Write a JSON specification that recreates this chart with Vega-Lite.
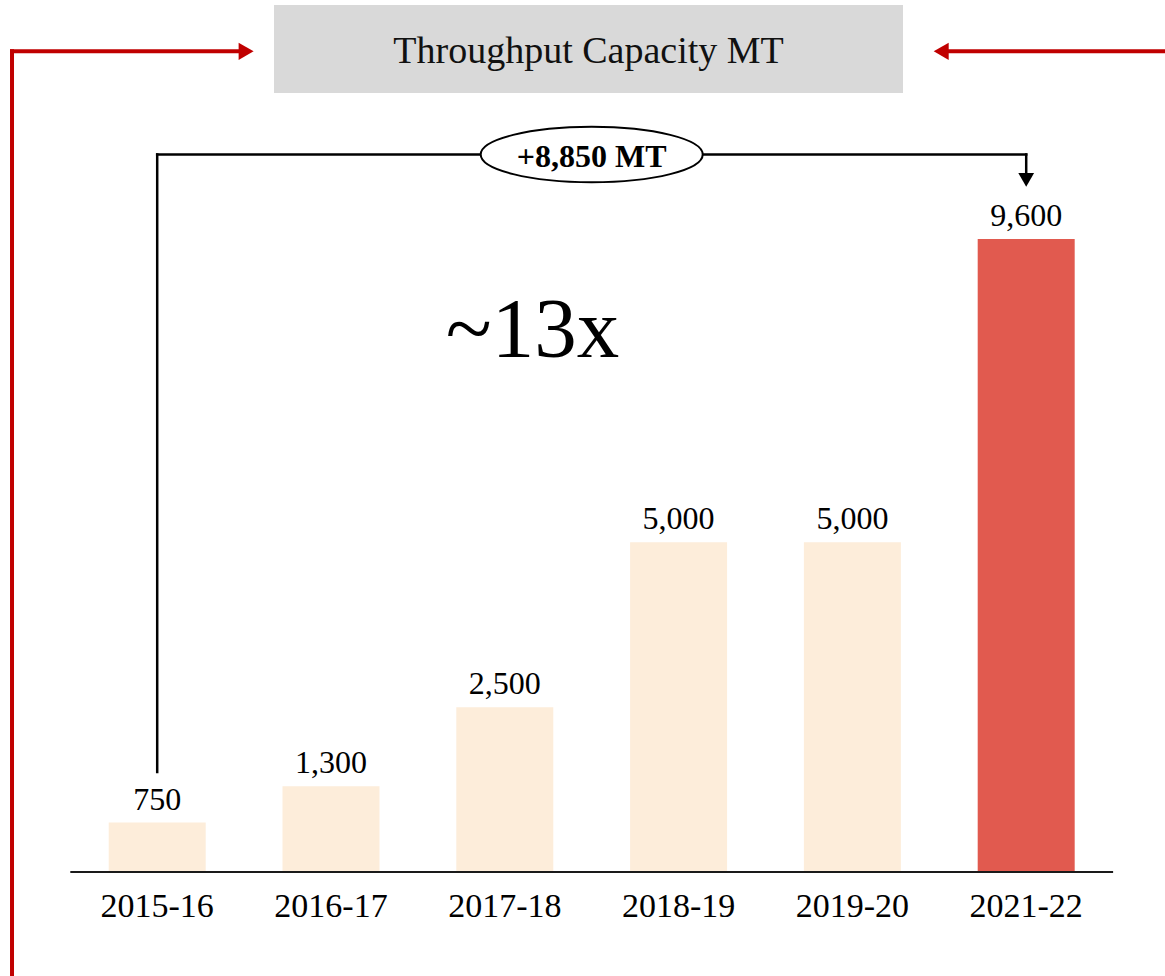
{
  "$schema": "https://vega.github.io/schema/vega-lite/v6.json",
  "width": 1165,
  "height": 872,
  "autosize": {"type": "none"},
  "padding": {"left": 0, "top": 0, "right": 0, "bottom": 104},
  "background": "white",
  "config": {"view": {"stroke": null}, "font": "Liberation Serif"},
  "resolve": {"scale": {"x": "independent"}},
  "layer": [
    {
      "data": {"values": [
        {"period": "2015-16", "value": 750},
        {"period": "2016-17", "value": 1300},
        {"period": "2017-18", "value": 2500},
        {"period": "2018-19", "value": 5000},
        {"period": "2019-20", "value": 5000},
        {"period": "2021-22", "value": 9600}
      ]},
      "encoding": {
        "x": {"field": "period", "type": "nominal", "sort": null,
          "scale": {"type": "band", "paddingInner": 0.4419, "paddingOuter": 0.5725, "align": 0.5462},
          "axis": {"title": null, "domain": false, "ticks": false, "tickSize": 0, "labelPadding": 44, "labelBaseline": "alphabetic", "labelFont": "Liberation Serif", "labelFontSize": 34, "labelColor": "#000", "labelAngle": 0, "grid": false}},
        "y": {"field": "value", "type": "quantitative", "scale": {"domain": [0, 13224], "nice": false, "zero": true}, "axis": null}
      },
      "layer": [
        {"mark": {"type": "bar"},
         "encoding": {"color": {"condition": {"test": "datum.period === '2021-22'", "value": "#E15A4F"}, "value": "#FDEDDA"}}},
        {"mark": {"type": "text", "baseline": "alphabetic", "dy": -13, "fontSize": 32, "font": "Liberation Serif", "color": "#000"},
         "encoding": {"text": {"field": "value", "type": "quantitative", "format": ","}}}
      ]
    },
    {
      "layer": [
        {
          "data": {"values": [{"x": 0.672, "x2": 4.2912, "y": 13148, "y2": 11814}]},
          "mark": {"type": "rect", "fill": "#D9D9D9"},
          "encoding": {
            "x": {"field": "x", "type": "quantitative", "scale": {"domain": [-0.9045, 5.7986], "nice": false, "zero": false}, "axis": null},
            "x2": {"field": "x2"},
            "y": {"field": "y", "type": "quantitative", "scale": {"domain": [0, 13224], "nice": false}, "axis": null},
            "y2": {"field": "y2"}
          }
        },
        {
          "data": {"values": [{"x": 2.4816, "y": 12264, "label": "Throughput Capacity MT"}]},
          "mark": {"type": "text", "baseline": "alphabetic", "align": "center", "fontSize": 38, "font": "Liberation Serif", "color": "#111"},
          "encoding": {
            "x": {"field": "x", "type": "quantitative", "scale": {"domain": [-0.9045, 5.7986], "nice": false, "zero": false}, "axis": null},
            "y": {"field": "y", "type": "quantitative", "scale": {"domain": [0, 13224], "nice": false}, "axis": null},
            "text": {"field": "label"}
          }
        },
        {
          "data": {"values": [
            {"x": -0.8354, "x2": -0.8354, "y": 12446, "y2": -1700},
            {"x": -0.8354, "x2": 0.47, "y": 12446, "y2": 12446},
            {"x": 4.55, "x2": 5.83, "y": 12446, "y2": 12446}
          ]},
          "mark": {"type": "rule", "color": "#C00000", "strokeWidth": 4, "strokeCap": "square"},
          "encoding": {
            "x": {"field": "x", "type": "quantitative", "scale": {"domain": [-0.9045, 5.7986], "nice": false, "zero": false}, "axis": null},
            "x2": {"field": "x2"},
            "y": {"field": "y", "type": "quantitative", "scale": {"domain": [0, 13224], "nice": false}, "axis": null},
            "y2": {"field": "y2"}
          }
        },
        {
          "data": {"values": [
            {"x": 0.5115, "y": 12446, "dir": "right"},
            {"x": 4.5109, "y": 12446, "dir": "left"}
          ]},
          "mark": {"type": "point", "filled": true, "color": "#C00000", "size": 300, "opacity": 1, "strokeWidth": 0},
          "encoding": {
            "x": {"field": "x", "type": "quantitative", "scale": {"domain": [-0.9045, 5.7986], "nice": false, "zero": false}, "axis": null},
            "y": {"field": "y", "type": "quantitative", "scale": {"domain": [0, 13224], "nice": false}, "axis": null},
            "shape": {"field": "dir", "type": "nominal", "scale": {"domain": ["right", "left"], "range": ["triangle-right", "triangle-left"]}, "legend": null}
          }
        },
        {
          "data": {"values": [{"x": -0.5, "x2": 5.5, "y": 0, "y2": 0}]},
          "mark": {"type": "rule", "color": "#1a1a1a", "strokeWidth": 2},
          "encoding": {
            "x": {"field": "x", "type": "quantitative", "scale": {"domain": [-0.9045, 5.7986], "nice": false, "zero": false}, "axis": null},
            "x2": {"field": "x2"},
            "y": {"field": "y", "type": "quantitative", "scale": {"domain": [0, 13224], "nice": false}, "axis": null},
            "y2": {"field": "y2"}
          }
        },
        {
          "data": {"values": [
            {"x": 0, "x2": 0, "y": 1517, "y2": 10881},
            {"x": 0, "x2": 5, "y": 10881, "y2": 10881},
            {"x": 5, "x2": 5, "y": 10881, "y2": 10616}
          ]},
          "mark": {"type": "rule", "color": "#000", "strokeWidth": 2.5, "strokeCap": "square"},
          "encoding": {
            "x": {"field": "x", "type": "quantitative", "scale": {"domain": [-0.9045, 5.7986], "nice": false, "zero": false}, "axis": null},
            "x2": {"field": "x2"},
            "y": {"field": "y", "type": "quantitative", "scale": {"domain": [0, 13224], "nice": false}, "axis": null},
            "y2": {"field": "y2"}
          }
        },
        {
          "data": {"values": [{"x": 5, "y": 10496}]},
          "mark": {"type": "point", "shape": "triangle-down", "filled": true, "color": "#000", "size": 250, "opacity": 1, "strokeWidth": 0},
          "encoding": {
            "x": {"field": "x", "type": "quantitative", "scale": {"domain": [-0.9045, 5.7986], "nice": false, "zero": false}, "axis": null},
            "y": {"field": "y", "type": "quantitative", "scale": {"domain": [0, 13224], "nice": false}, "axis": null}
          }
        },
        {
          "data": {"values": [{"x": 2.5, "y": 10881}]},
          "mark": {"type": "point", "shape": "M-1,0C-1,-0.138,-0.5523,-0.25,0,-0.25C0.5523,-0.25,1,-0.138,1,0C1,0.138,0.5523,0.25,0,0.25C-0.5523,0.25,-1,0.138,-1,0Z", "filled": true, "fill": "#fff", "stroke": "#000", "strokeWidth": 2, "size": 49284, "opacity": 1, "fillOpacity": 1, "strokeOpacity": 1},
          "encoding": {
            "x": {"field": "x", "type": "quantitative", "scale": {"domain": [-0.9045, 5.7986], "nice": false, "zero": false}, "axis": null},
            "y": {"field": "y", "type": "quantitative", "scale": {"domain": [0, 13224], "nice": false}, "axis": null}
          }
        },
        {
          "data": {"values": [{"x": 2.5, "y": 10696, "label": "+8,850 MT"}]},
          "mark": {"type": "text", "baseline": "alphabetic", "align": "center", "fontSize": 32, "fontWeight": "bold", "font": "Liberation Serif", "color": "#000"},
          "encoding": {
            "x": {"field": "x", "type": "quantitative", "scale": {"domain": [-0.9045, 5.7986], "nice": false, "zero": false}, "axis": null},
            "y": {"field": "y", "type": "quantitative", "scale": {"domain": [0, 13224], "nice": false}, "axis": null},
            "text": {"field": "label"}
          }
        },
        {
          "data": {"values": [{"x": 2.1594, "y": 7806, "label": "~13x"}]},
          "mark": {"type": "text", "baseline": "alphabetic", "align": "center", "fontSize": 85, "font": "Liberation Serif", "color": "#000"},
          "encoding": {
            "x": {"field": "x", "type": "quantitative", "scale": {"domain": [-0.9045, 5.7986], "nice": false, "zero": false}, "axis": null},
            "y": {"field": "y", "type": "quantitative", "scale": {"domain": [0, 13224], "nice": false}, "axis": null},
            "text": {"field": "label"}
          }
        }
      ]
    }
  ]
}
